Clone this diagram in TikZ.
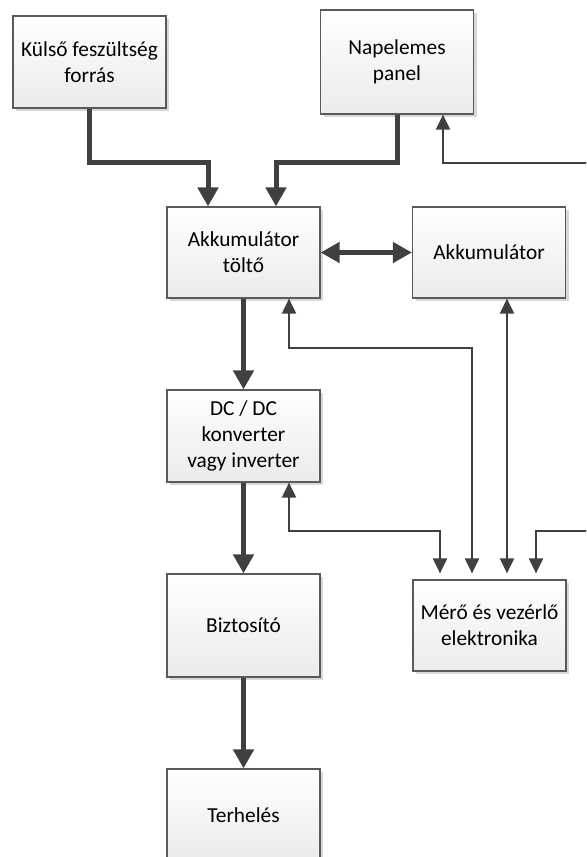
\documentclass[tikz,border=0pt]{standalone}
\usepackage{fontspec}
\setmainfont{Carlito}
\usetikzlibrary{arrows.meta,calc,shadows}
\definecolor{linegray}{HTML}{404040}
\definecolor{boxedge}{HTML}{5A5A5A}
\begin{document}
\begin{tikzpicture}[x=0.75pt,y=-0.75pt,
  blockbox/.style={draw=boxedge, line width=0.9pt, top color=white, bottom color=black!8,
    minimum width=114.75pt, align=center, inner sep=0pt,
    font=\fontsize{16}{19.5}\selectfont,
    drop shadow={shadow xshift=2.25pt, shadow yshift=-2.25pt, fill=black!30, opacity=0.5}},
  bigtip/.tip={Triangle[length=14.25pt,width=15pt]},
  smalltip/.tip={Triangle[length=11.25pt,width=10.5pt]},
  power/.style={draw=linegray, line width=3.75pt, -bigtip},
  powerboth/.style={draw=linegray, line width=3.75pt, bigtip-bigtip},
  signalboth/.style={draw=linegray, line width=1.5pt, smalltip-smalltip},
]
\useasboundingbox (0,0) rectangle (586,857);
\clip (0,0) rectangle (586,857);

% blocks
\node[blockbox, minimum height=69pt]    (kulso)   at (89.5,62)    {Külső feszültség\\forrás};
\node[blockbox, minimum height=78pt]    (napelem) at (397,62)     {Napelemes\\panel};
\node[blockbox, minimum height=68.25pt] (tolto)   at (243.5,252.5){Akkumulátor\\töltő};
\node[blockbox, minimum height=68.25pt] (akku)    at (489,252.5)  {Akkumulátor};
\node[blockbox, minimum height=69pt]    (dcdc)    at (243.5,436)  {DC / DC\\konverter\\vagy inverter};
\node[blockbox, minimum height=77.25pt] (bizt)    at (243.5,625.5){Biztosító};
\node[blockbox, minimum height=69pt]    (terh)    at (243.5,815)  {Terhelés};
\node[blockbox, minimum height=68.25pt] (mero)    at (489.5,625.5){Mérő és vezérlő\\elektronika};

% power path
\draw[power] (kulso.south) -- ++(0,54) -| ($(tolto.north)+(-35.5,0)$);
\draw[power] (napelem.south) -- ++(0,48) -| ($(tolto.north)+(32.5,0)$);
\draw[powerboth] (tolto.east) -- (akku.west);
\draw[power] (tolto.south) -- (dcdc.north);
\draw[power] (dcdc.south) -- (bizt.north);
\draw[power] (bizt.south) -- (terh.north);

% measurement and control lines (they stop a little above the electronics block)
\draw[signalboth] ($(tolto.south)+(45.5,0)$) -- ++(0,49) -| ($(mero.north)+(-17.5,-6)$);
\draw[signalboth] ($(akku.south)+(18,0)$) -- ($(mero.north)+(17.5,-6)$);
\draw[signalboth] ($(dcdc.south)+(45.5,0)$) -- ++(0,48) -| ($(mero.north)+(-49.5,-6)$);
\draw[signalboth] ($(mero.north)+(46.5,-6)$) -- ++(0,-42) -- ++(70,0) |- ($(napelem.south)+(46,48)$) -- ($(napelem.south)+(46,0)$);
\end{tikzpicture}
\end{document}
